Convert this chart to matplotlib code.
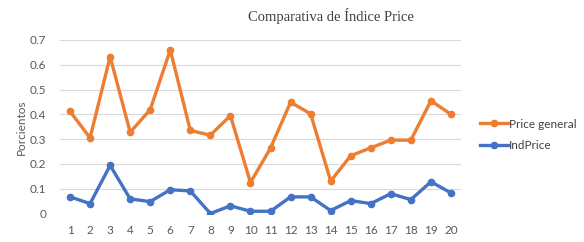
import matplotlib
matplotlib.use("Agg")
import matplotlib.pyplot as plt

x = list(range(1, 21))
price_general = [0.412, 0.305, 0.633, 0.328, 0.419, 0.66, 0.335, 0.316, 0.395, 0.125,
                 0.264, 0.449, 0.402, 0.131, 0.233, 0.265, 0.296, 0.296, 0.455, 0.40]
ind_price = [0.067, 0.04, 0.194, 0.059, 0.048, 0.096, 0.091, 0.0, 0.031, 0.009,
             0.009, 0.067, 0.067, 0.012, 0.052, 0.04, 0.08, 0.056, 0.128, 0.083]
yticks = [0, 0.1, 0.2, 0.3, 0.4, 0.5, 0.6, 0.7]
ytick_labels = ["0", "0.1", "0.2", "0.3", "0.4", "0.5", "0.6", "0.7"]

plt.rcParams['font.family'] = ['Lato', 'DejaVu Sans']
fig = plt.figure(figsize=(5.84, 2.42), dpi=100)
W, H = 584, 242
ax = fig.add_axes([60 / W, (H - 214) / H, (461 - 60) / W, (214 - 40) / H])

orange = "#ED7D31"
blue = "#4472C4"
ax.plot(x, price_general, color=orange, lw=2.4, marker="o", ms=4.5, label="Price general", zorder=3)
ax.plot(x, ind_price, color=blue, lw=2.4, marker="o", ms=4.5, label="IndPrice", zorder=3)

ax.set_xlim(0.5, 20.5)
ax.set_yticks(yticks)
ax.set_yticklabels(ytick_labels)
ax.set_xticks(x)
ax.set_xticklabels([str(v) for v in x])
ax.grid(axis="y", color="#D9D9D9", lw=0.8)
ax.set_axisbelow(True)
for s in ax.spines.values():
    s.set_visible(False)
ax.tick_params(length=0, colors="#595959", labelsize=8.5)
ax.tick_params(axis="x", pad=8)
ax.tick_params(axis="y", pad=10)
ax.set_ylabel("Porcientos", color="#595959", fontsize=8.5, labelpad=2)
ax.set_ylim(-0.002, 0.7)

fig.text(331 / W, 1 - 16 / H, "Comparativa de Índice Price", ha="center", va="center",
         fontsize=10.5, family="Liberation Serif", color="#404040")

ax.legend(loc="center left", bbox_to_anchor=(1.02, 0.455), frameon=False, fontsize=8.5,
          labelcolor="#404040", handlelength=2.4, handletextpad=0.1, labelspacing=0.9)

fig.savefig("out.png", dpi=100, facecolor="white")
